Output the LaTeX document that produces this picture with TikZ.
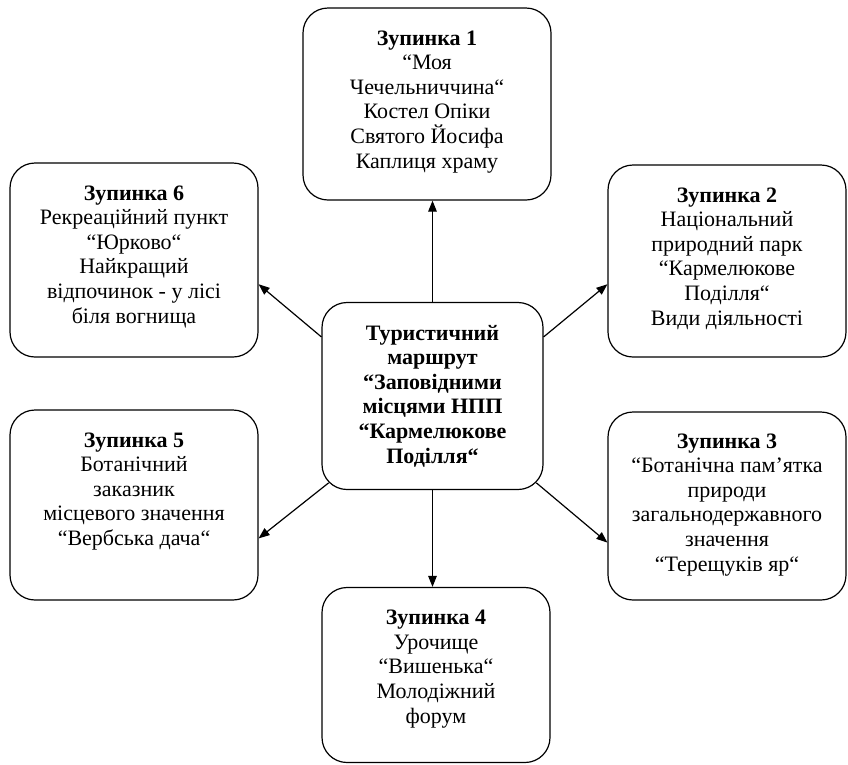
\documentclass[tikz,border=0pt]{standalone}
\usepackage{fontspec}
\setmainfont{Liberation Serif}
\usetikzlibrary{arrows.meta,positioning}

\begin{document}
\begin{tikzpicture}[
        x=1pt, y=-1pt,
        stopbox/.style={draw, line width=1.2pt, rounded corners=25pt, inner sep=0pt},
        stoptext/.style={inner sep=0pt, align=center, font=\fontsize{22}{24.6}\selectfont},
        hubtext/.style={stoptext, font=\fontsize{22}{24.6}\selectfont\bfseries},
        arrow/.style={-{Triangle[length=11pt,width=8.5pt]}, line width=1.2pt}
      ]
        \useasboundingbox (0,0) rectangle (848,764);
        % centre of the route
        \node[stopbox, minimum width=221pt, minimum height=187pt] (hub) at (432.5,396) {};
        \node[hubtext] (hubt) at (432.5,396) {Туристичний\\маршрут\\“Заповідними\\місцями НПП\\“Кармелюкове\\Поділля“};
        % stops
        \node[stopbox, minimum width=248pt, minimum height=192pt] (stop1) at (427,104) {};
        \node[stoptext, below=23pt of stop1.north] (stop1t) {\textbf{Зупинка 1}\\“Моя\\Чечельниччина“\\Костел Опіки\\Святого Йосифа\\Каплиця храму};
        \node[stopbox, minimum width=238pt, minimum height=192pt] (stop2) at (727,261) {};
        \node[stoptext, below=23pt of stop2.north] (stop2t) {\textbf{Зупинка 2}\\Національний\\природний парк\\“Кармелюкове\\Поділля“\\Види діяльності};
        \node[stopbox, minimum width=238pt, minimum height=188pt] (stop3) at (727,506) {};
        \node[stoptext, below=22pt of stop3.north] (stop3t) {\textbf{Зупинка 3}\\“Ботанічна пам’ятка\\природи\\загальнодержавного\\значення\\“Терещуків яр“};
        \node[stopbox, minimum width=228pt, minimum height=175pt] (stop4) at (436,675) {};
        \node[stoptext, below=23pt of stop4.north] (stop4t) {\textbf{Зупинка 4}\\Урочище\\“Вишенька“\\Молодіжний\\форум};
        \node[stopbox, minimum width=248pt, minimum height=190pt] (stop5) at (134,505) {};
        \node[stoptext, below=23pt of stop5.north] (stop5t) {\textbf{Зупинка 5}\\Ботанічний\\заказник\\місцевого значення\\“Вербська дача“};
        \node[stopbox, minimum width=248pt, minimum height=194pt] (stop6) at (134,260) {};
        \node[stoptext, below=23pt of stop6.north] (stop6t) {\textbf{Зупинка 6}\\Рекреаційний пункт\\“Юрково“\\Найкращий\\відпочинок - у лісі\\біля вогнища};
        % arrows
        \draw[arrow] (hub.north) -- (hub.north |- stop1.south);
        \draw[arrow] (hub.28) -- (stop2.191);
        \draw[arrow] ([shift={(-7.3pt,7.3pt)}]hub.south east) -- (stop3.197);
        \draw[arrow] (hub.south) -- (hub.south |- stop4.north);
        \draw[arrow] ([shift={(7.3pt,7.3pt)}]hub.south west) -- (stop5.-15);
        \draw[arrow] (hub.152) -- (stop6.-11);
      \end{tikzpicture}
\end{document}
